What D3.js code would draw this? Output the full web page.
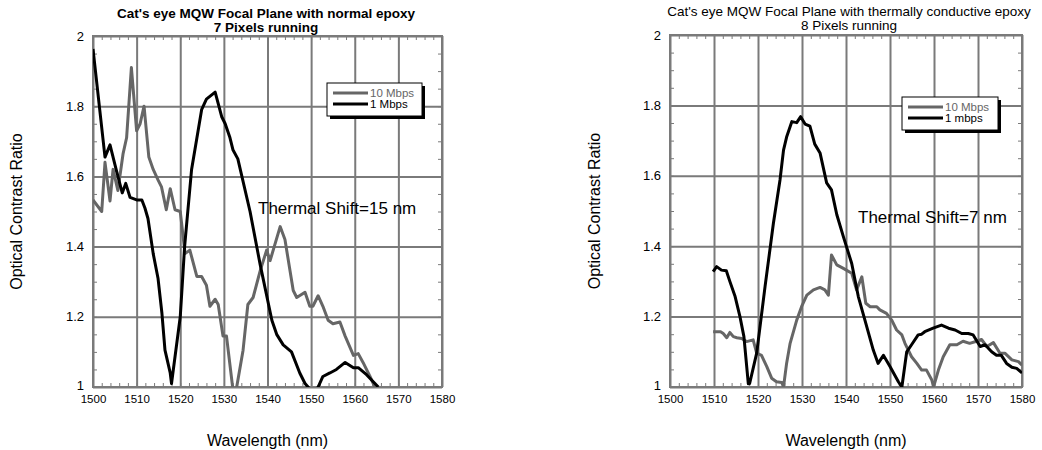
<!DOCTYPE html>
<html>
<head>
<meta charset="utf-8">
<script src="https://cdn.jsdelivr.net/npm/d3@7"></script>
<style>
  body { margin: 0; background: #fff; }
  svg text { font-family: Arial, "Liberation Sans", Helvetica, sans-serif; }
</style>
</head>
<body>
<div id="chart"></div>
<script>
// ---- data ----
const xTicks = [1500, 1510, 1520, 1530, 1540, 1550, 1560, 1570, 1580];
const yTicks = [1, 1.2, 1.4, 1.6, 1.8, 2];

// left panel: normal epoxy, [wavelength nm, contrast ratio]
const normal10 = [
  [1500, 1.533], [1502, 1.50], [1502.75, 1.64], [1503.9, 1.53], [1504.6, 1.62], [1505.7, 1.56],
  [1506.9, 1.665], [1507.7, 1.71], [1508.8, 1.91], [1510, 1.73], [1510.8, 1.75], [1511.7, 1.80],
  [1512.8, 1.655], [1513.8, 1.62], [1514.9, 1.59], [1515.7, 1.57], [1516.8, 1.505], [1517.7, 1.565],
  [1518.8, 1.505], [1520, 1.50], [1521.1, 1.38], [1522.2, 1.39], [1523.8, 1.315], [1524.9, 1.315],
  [1526, 1.29], [1526.8, 1.23], [1528, 1.25], [1528.7, 1.235], [1529.8, 1.145], [1530.6, 1.145],
  [1532.1, 0.99], [1532.8, 0.99], [1534.4, 1.105], [1535.5, 1.235], [1536.7, 1.255], [1538.3, 1.33],
  [1539.8, 1.39], [1540.6, 1.36], [1542.9, 1.457], [1544, 1.42], [1545.9, 1.275], [1546.7, 1.255],
  [1548.6, 1.27], [1549.7, 1.23], [1550.4, 1.23], [1551.6, 1.26], [1552.7, 1.23], [1553.9, 1.19],
  [1555, 1.18], [1556.6, 1.185], [1557.8, 1.145], [1559.7, 1.09], [1560.8, 1.095], [1561.9, 1.07],
  [1563.5, 1.03], [1564.6, 1.0]
];
const normal1 = [
  [1500, 1.963], [1502.75, 1.655], [1503.9, 1.69], [1505.3, 1.62], [1506.7, 1.553], [1507.5, 1.58],
  [1508.5, 1.54], [1510, 1.533], [1511.2, 1.533], [1511.9, 1.51], [1512.6, 1.48], [1513.8, 1.38],
  [1514.9, 1.31], [1515.8, 1.21], [1516.5, 1.105], [1517.7, 1.04], [1518, 1.01], [1520, 1.2],
  [1521, 1.4], [1522.6, 1.62], [1524.9, 1.79], [1526, 1.82], [1528, 1.84], [1529.5, 1.77],
  [1530.3, 1.75], [1531.4, 1.71], [1532.1, 1.675], [1533.2, 1.65], [1536, 1.5], [1538.3, 1.35],
  [1541, 1.19], [1542.1, 1.15], [1543.6, 1.12], [1545.5, 1.10], [1547.4, 1.04], [1548.6, 1.01],
  [1550, 0.99], [1551.2, 0.99], [1551.6, 1.0], [1552.7, 1.03], [1554.3, 1.04], [1555.8, 1.05],
  [1557.8, 1.07], [1559.7, 1.055], [1560.8, 1.055], [1562.7, 1.035], [1565.4, 1.0]
];

// right panel: thermally conductive epoxy
const conductive10 = [
  [1509.8, 1.157], [1511.5, 1.157], [1512.1, 1.152], [1512.9, 1.14], [1513.6, 1.155], [1514.4, 1.143],
  [1515.2, 1.14], [1516.3, 1.138], [1517.4, 1.129], [1518.9, 1.134], [1519.7, 1.096], [1520.8, 1.09],
  [1522, 1.058], [1523.1, 1.025], [1524.2, 1.015], [1525.4, 1.013], [1525.8, 1.0], [1526.5, 1.067],
  [1527.3, 1.124], [1528.8, 1.19], [1529.9, 1.228], [1531.1, 1.261], [1532.6, 1.276], [1534.1, 1.283],
  [1535.2, 1.276], [1536, 1.261], [1536.7, 1.375], [1537.9, 1.347], [1539.4, 1.337], [1541.3, 1.323],
  [1542.4, 1.276], [1543.6, 1.313], [1544.5, 1.238], [1545.5, 1.228], [1547, 1.228], [1547.7, 1.219],
  [1549.2, 1.209], [1550.4, 1.19], [1551.5, 1.162], [1552.7, 1.148], [1553.4, 1.124], [1554.9, 1.086],
  [1556.1, 1.067], [1557.2, 1.048], [1558.3, 1.048], [1559.5, 1.02], [1559.9, 1.0], [1561, 1.048],
  [1562.1, 1.086], [1563.6, 1.12], [1565.2, 1.12], [1566.6, 1.13], [1568.1, 1.124], [1569.7, 1.13],
  [1570.8, 1.135], [1572, 1.115], [1573.5, 1.126], [1575, 1.096], [1576.1, 1.096], [1577.7, 1.077],
  [1579.2, 1.072], [1580, 1.062]
];
const conductive1 = [
  [1509.8, 1.328], [1510.6, 1.342], [1511.7, 1.332], [1512.8, 1.33], [1513.6, 1.30], [1514.8, 1.257],
  [1515.9, 1.20], [1516.8, 1.143], [1517.8, 1.009], [1518.1, 1.01], [1519.7, 1.096], [1521.6, 1.285],
  [1523.5, 1.465], [1525, 1.588], [1525.8, 1.673], [1526.5, 1.71], [1527.7, 1.754], [1528.8, 1.751],
  [1529.7, 1.768], [1530.7, 1.747], [1531.8, 1.741], [1532.9, 1.69], [1534.1, 1.665], [1535.6, 1.58],
  [1536.7, 1.56], [1537.9, 1.49], [1539.4, 1.427], [1541.3, 1.351], [1542.8, 1.257], [1544.3, 1.19],
  [1546.2, 1.105], [1547.3, 1.067], [1548.5, 1.09], [1550, 1.058], [1551.9, 1.015], [1552.7, 1.0],
  [1553.8, 1.10], [1554.9, 1.12], [1556.4, 1.148], [1557.2, 1.15], [1557.9, 1.157], [1559.8, 1.167],
  [1561.7, 1.176], [1563.3, 1.167], [1564.8, 1.162], [1566.3, 1.152], [1567.8, 1.152], [1568.9, 1.148],
  [1570.5, 1.115], [1571.6, 1.12], [1573.1, 1.10], [1574.2, 1.09], [1575.3, 1.09], [1576.5, 1.067],
  [1577.7, 1.056], [1578.8, 1.053], [1580, 1.04]
];

const panels = [
  {
    id: "left", x0: 93, x1: 442, y0: 36, y1: 387,
    title: ["Cat's eye MQW Focal Plane with normal epoxy", "7 Pixels running"], titleBold: true,
    titleSize: 13.5, titleY: [18, 32], titleX: 266, yLabelX: 22,
    series: [{name: "10 Mbps", data: normal10, color: "#666"}, {name: "1 Mbps", data: normal1, color: "#000"}],
    legend: {x: 327, y: 83, w: 95, h: 33},
    note: "Thermal Shift=15 nm", noteX: 258, noteY: 214
  },
  {
    id: "right", x0: 670, x1: 1022, y0: 35, y1: 387,
    title: ["Cat's eye MQW Focal Plane with thermally conductive epoxy", "8 Pixels running"], titleBold: false,
    titleSize: 13.5, titleY: [15.5, 30], titleX: 849, yLabelX: 600,
    series: [{name: "10 Mbps", data: conductive10, color: "#666"}, {name: "1 mbps", data: conductive1, color: "#000"}],
    legend: {x: 902, y: 97, w: 96, h: 33},
    note: "Thermal Shift=7 nm", noteX: 858, noteY: 223
  }
];

const svg = d3.select("#chart").append("svg")
  .attr("width", 1042)
  .attr("height", 450);

const gridColor = "#7a7a7a";

panels.forEach(function(p) {
  let x = d3.scaleLinear().domain([1500, 1580]).range([p.x0, p.x1]);
  let y = d3.scaleLinear().domain([1, 2]).range([p.y1, p.y0]);

  let g = svg.append("g").attr("class", p.id);

  // clip
  g.append("clipPath").attr("id", "clip-" + p.id)
    .append("rect")
    .attr("x", p.x0).attr("y", p.y0)
    .attr("width", p.x1 - p.x0).attr("height", p.y1 - p.y0);

  // grid lines
  g.append("g")
    .attr("transform", `translate(0, ${p.y1})`)
    .call(d3.axisBottom(x).tickValues(xTicks).tickSize(-(p.y1 - p.y0)).tickFormat(""))
    .call(a => a.select(".domain").remove())
    .selectAll("line").attr("stroke", gridColor).attr("stroke-width", 2);

  g.append("g")
    .attr("transform", `translate(${p.x0}, 0)`)
    .call(d3.axisLeft(y).tickValues(yTicks).tickSize(-(p.x1 - p.x0)).tickFormat(""))
    .call(a => a.select(".domain").remove())
    .selectAll("line").attr("stroke", gridColor).attr("stroke-width", 2);

  // minor ticks inside frame
  let xMinor = d3.range(1500, 1581, 2);
  let yMinor = d3.range(1, 2.001, 0.05);
  g.append("g")
    .attr("transform", `translate(0, ${p.y1})`)
    .call(d3.axisTop(x).tickValues(xMinor).tickSize(4).tickFormat(""))
    .call(a => a.select(".domain").remove())
    .selectAll("line").attr("stroke", gridColor);
  g.append("g")
    .attr("transform", `translate(0, ${p.y0})`)
    .call(d3.axisBottom(x).tickValues(xMinor).tickSize(4).tickFormat(""))
    .call(a => a.select(".domain").remove())
    .selectAll("line").attr("stroke", gridColor);
  g.append("g")
    .attr("transform", `translate(${p.x0}, 0)`)
    .call(d3.axisRight(y).tickValues(yMinor).tickSize(4).tickFormat(""))
    .call(a => a.select(".domain").remove())
    .selectAll("line").attr("stroke", gridColor);
  g.append("g")
    .attr("transform", `translate(${p.x1}, 0)`)
    .call(d3.axisLeft(y).tickValues(yMinor).tickSize(4).tickFormat(""))
    .call(a => a.select(".domain").remove())
    .selectAll("line").attr("stroke", gridColor);

  // frame
  g.append("rect")
    .attr("x", p.x0).attr("y", p.y0)
    .attr("width", p.x1 - p.x0).attr("height", p.y1 - p.y0)
    .attr("fill", "none").attr("stroke", gridColor).attr("stroke-width", 2);

  // tick labels
  g.append("g")
    .attr("transform", `translate(0, ${p.y1})`)
    .call(d3.axisBottom(x).tickValues(xTicks).tickSize(0).tickPadding(8).tickFormat(d3.format("d")))
    .call(a => a.select(".domain").remove())
    .selectAll("text").attr("font-size", 11.5).attr("fill", "#000");

  g.append("g")
    .attr("transform", `translate(${p.x0}, 0)`)
    .call(d3.axisLeft(y).tickValues(yTicks).tickSize(0).tickPadding(9).tickFormat(d => d3.format("")(+d.toFixed(1))))
    .call(a => a.select(".domain").remove())
    .selectAll("text").attr("font-size", 13).attr("fill", "#000")
    .attr("dy", d => d === 1 ? "0.2em" : "0.32em");

  // lines
  let line = d3.line().x(d => x(d[0])).y(d => y(d[1]));
  g.append("g").attr("clip-path", `url(#clip-${p.id})`)
    .selectAll("path")
    .data(p.series)
    .join("path")
    .attr("d", d => line(d.data))
    .attr("fill", "none")
    .attr("stroke", d => d.color)
    .attr("stroke-width", 3)
    .attr("stroke-linejoin", "round");

  // titles
  g.selectAll(".title")
    .data(p.title)
    .join("text")
    .attr("class", "title")
    .attr("x", p.titleX)
    .attr("y", (d, i) => p.titleY[i])
    .attr("text-anchor", "middle")
    .attr("font-size", p.titleSize)
    .attr("font-weight", p.titleBold ? "bold" : "normal")
    .text(d => d);

  // axis labels
  g.append("text")
    .attr("transform", `translate(${p.yLabelX}, ${(p.y0 + p.y1) / 2}) rotate(-90)`)
    .attr("text-anchor", "middle")
    .attr("font-size", 16)
    .text("Optical Contrast Ratio");

  g.append("text")
    .attr("x", (p.x0 + p.x1) / 2)
    .attr("y", 446)
    .attr("text-anchor", "middle")
    .attr("font-size", 16)
    .text("Wavelength (nm)");

  // note
  g.append("text")
    .attr("x", p.noteX).attr("y", p.noteY)
    .attr("font-size", 17)
    .text(p.note);

  // legend
  let L = p.legend;
  let leg = g.append("g").attr("transform", `translate(${L.x}, ${L.y})`);
  leg.append("rect").attr("x", 3).attr("y", 3).attr("width", L.w).attr("height", L.h).attr("fill", "#000");
  leg.append("rect").attr("width", L.w).attr("height", L.h).attr("fill", "#fff").attr("stroke", "#000").attr("stroke-width", 1);
  p.series.forEach(function(s, i) {
    leg.append("line")
      .attr("x1", 6).attr("x2", 41)
      .attr("y1", 10 + i * 11).attr("y2", 10 + i * 11)
      .attr("stroke", s.color).attr("stroke-width", 3);
    leg.append("text")
      .attr("x", 43).attr("y", 14 + i * 11)
      .attr("font-size", 11.5)
      .attr("fill", s.color)
      .text(s.name);
  });
});
</script>
</body>
</html>
